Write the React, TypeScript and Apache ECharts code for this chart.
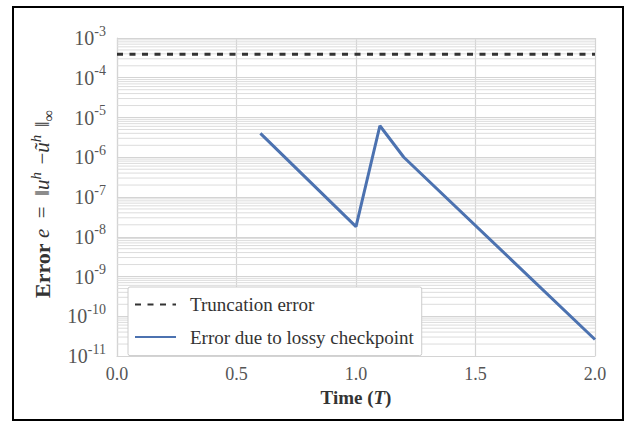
import React, { useEffect, useRef } from "react";
import * as echarts from "echarts";

// ---- data ----
const lossyTimes = [0.6, 1.0, 1.1, 1.2, 2.0];
const lossyErrors = [4.0e-6, 1.8e-8, 6.2e-6, 1.0e-6, 2.6e-11];
const truncTimes = [0.0, 2.0];
const truncErrors = [3.9e-4, 3.9e-4];
const xTicks = [0.0, 0.5, 1.0, 1.5, 2.0];
const yExponents = [-11, -10, -9, -8, -7, -6, -5, -4, -3];
const seriesNames = ["Truncation error", "Error due to lossy checkpoint"];

const SERIF = "Liberation Serif";

// minor log gridlines (2..9 x 10^k), drawn as broken horizontal segments
const minorValues: number[] = [];
for (let k = yExponents[0]; k < yExponents[yExponents.length - 1]; k++) {
  for (let m = 2; m <= 9; m++) minorValues.push(m * Math.pow(10, k));
}
const minorGridData: any[] = [];
minorValues.forEach((v) => {
  minorGridData.push([xTicks[0], v]);
  minorGridData.push([xTicks[xTicks.length - 1], v]);
  minorGridData.push([xTicks[xTicks.length - 1], "-"]);
});

export default function App() {
  const ref = useRef<HTMLDivElement>(null);
  useEffect(() => {
    if (!ref.current) return;
    const chart = echarts.init(ref.current, undefined, { renderer: "svg" });
    const t = { fontFamily: SERIF, fontSize: 21, color: "#333", lineHeight: 28 };
    const option: any = {
      animation: false,
      backgroundColor: "#ffffff",
      textStyle: { fontFamily: SERIF },
      graphic: [
        {
          type: "rect",
          shape: { x: 13, y: 7, width: 610, height: 413 },
          style: { fill: "none", stroke: "#000", lineWidth: 2 },
          z: 10,
        },
      ],
      grid: { left: 117, right: 30, top: 38, bottom: 66, containLabel: false },
      legend: {
        orient: "vertical",
        left: 128,
        top: 287,
        backgroundColor: "#ffffff",
        borderColor: "#cccccc",
        borderWidth: 1,
        borderRadius: 2,
        padding: [8, 8, 9, 6],
        itemWidth: 41,
        itemHeight: 14,
        itemGap: 13.6,
        itemStyle: { opacity: 0 },
        data: seriesNames,
        formatter: (name: string) => "{a|" + name + "}",
        textStyle: {
          fontFamily: SERIF,
          fontSize: 19,
          color: "#333",
          rich: {
            a: { fontFamily: SERIF, fontSize: 19, color: "#333", padding: [0, 0, 0, 9] },
          },
        },
      },
      xAxis: {
        type: "value",
        min: 0,
        max: 2,
        interval: 0.5,
        name: "{b|Time (}{bi|T}{b|)}",
        nameLocation: "middle",
        nameGap: 24,
        nameTextStyle: {
          fontFamily: SERIF,
          rich: {
            b: { fontFamily: SERIF, fontSize: 19, fontWeight: "bold", color: "#333" },
            bi: { fontFamily: SERIF, fontSize: 19, fontWeight: "bold", fontStyle: "italic", color: "#333" },
          },
        },
        axisLine: { show: true, lineStyle: { color: "#d4d4d4", width: 1.2 } },
        axisTick: { show: false },
        axisLabel: {
          margin: 9,
          fontFamily: SERIF,
          formatter: (v: number) => {
            const x = xTicks.find((q) => Math.abs(q - v) < 1e-9);
            return x === undefined ? "" : "{a|" + x.toFixed(1) + "}";
          },
          rich: { a: { fontFamily: SERIF, fontSize: 18, color: "#555" } },
        },
        splitLine: { show: true, lineStyle: { color: "#d4d4d4", width: 1.2 } },
      },
      yAxis: {
        type: "log",
        logBase: 10,
        min: Math.pow(10, yExponents[0]),
        max: Math.pow(10, yExponents[yExponents.length - 1]),
        splitNumber: 8,
        name:
          "{b|Error }{i|e }{r| =  }{r|‖}{i|u}{sup|h  }{r|−}{i|ũ}{sup|h  }{r|‖}{sub|∞}",
        nameLocation: "middle",
        nameRotate: 90,
        nameGap: 60,
        nameTextStyle: {
          fontFamily: SERIF,
          rich: {
            b: { ...t, fontSize: 22, fontWeight: "bold" },
            i: { ...t, fontStyle: "italic" },
            r: { ...t },
            sup: { fontFamily: SERIF, fontSize: 15, fontStyle: "italic", color: "#333", lineHeight: 15, verticalAlign: "top" },
            sub: { fontFamily: SERIF, fontSize: 16, color: "#333", lineHeight: 16, verticalAlign: "bottom", padding: [0, 14, 0, 0] },
          },
        },
        axisLine: { show: true, lineStyle: { color: "#d4d4d4", width: 1.2 } },
        axisTick: { show: false },
        axisLabel: {
          margin: 11,
          fontFamily: SERIF,
          formatter: (v: number) => {
            const e = Math.round(Math.log10(v));
            return "{b|10}{s|" + e + "}";
          },
          rich: {
            b: { fontFamily: SERIF, fontSize: 20, color: "#555", lineHeight: 28 },
            s: { fontFamily: SERIF, fontSize: 14, color: "#555", lineHeight: 14, verticalAlign: "top" },
          },
        },
        splitLine: { show: true, lineStyle: { color: "#d4d4d4", width: 1.2 } },
      },
      series: [
        {
          name: "minor-grid",
          type: "line",
          silent: true,
          z: 1,
          symbol: "none",
          connectNulls: false,
          data: minorGridData,
          lineStyle: { color: "#dcdcdc", width: 1 },
          itemStyle: { color: "#dcdcdc" },
          emphasis: { disabled: true },
        },
        {
          name: seriesNames[0],
          type: "line",
          z: 3,
          symbol: "none",
          data: truncTimes.map((x, i) => [x, truncErrors[i]]),
          lineStyle: { color: "#333333", width: 3, type: [6, 6.5] },
          itemStyle: { color: "#333333" },
        },
        {
          name: seriesNames[1],
          type: "line",
          z: 3,
          symbol: "none",
          data: lossyTimes.map((x, i) => [x, lossyErrors[i]]),
          lineStyle: { color: "#4c72b0", width: 3 },
          itemStyle: { color: "#4c72b0" },
        },
      ],
    };
    chart.setOption(option);
    return () => chart.dispose();
  }, []);
  return (
    <div
      ref={ref}
      style={{ position: "absolute", left: 0, top: 0, width: 625, height: 422 }}
    />
  );
}
